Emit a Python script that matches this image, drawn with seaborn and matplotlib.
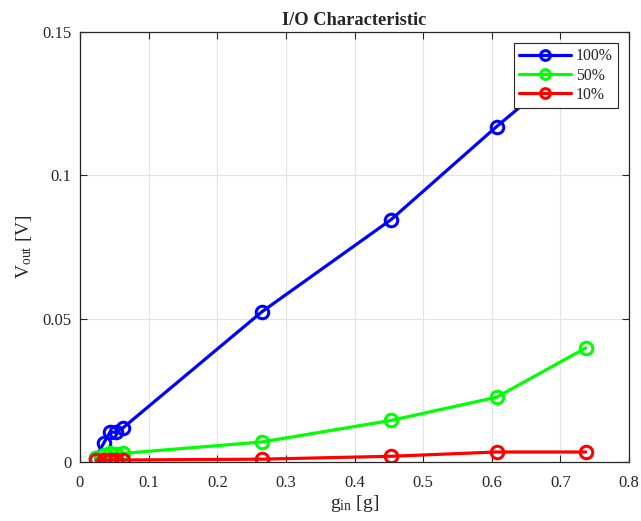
import matplotlib
matplotlib.use("Agg")
import matplotlib.pyplot as plt
import numpy as np
import pandas as pd
import seaborn as sns


g_in = [0.023, 0.035, 0.044, 0.053, 0.062, 0.265, 0.453, 0.607, 0.737]
v_100 = [0.0015, 0.0068, 0.0105, 0.0103, 0.0118, 0.0524, 0.0845, 0.117, 0.143]
v_50 = [0.0015, 0.0025, 0.0031, 0.0029, 0.0030, 0.0070, 0.0145, 0.0226, 0.0398]
v_10 = [0.0006, 0.0007, 0.0007, 0.0008, 0.0007, 0.0010, 0.0020, 0.0035, 0.0035]
series_names = ["100%", "50%", "10%"]
series_colors = ["#0000ff", "#00ff00", "#ff0000"]

sns.set_theme(style="whitegrid")
plt.rcParams["font.family"] = ["Liberation Serif", "DejaVu Serif"]
plt.rcParams["mathtext.fontset"] = "custom"
plt.rcParams["mathtext.rm"] = "Liberation Serif"
plt.rcParams["mathtext.it"] = "Liberation Serif:italic"

df = pd.DataFrame({
    "g": g_in * 3,
    "v": v_100 + v_50 + v_10,
    "series": np.repeat(series_names, len(g_in)),
})

fig = plt.figure(figsize=(6.41, 5.21), dpi=100)
ax = fig.add_axes([0.1248, 0.1132, 0.8565, 0.8254])
ax.set_facecolor("white")

sns.lineplot(
    data=df, x="g", y="v", hue="series", hue_order=series_names,
    palette=dict(zip(series_names, series_colors)),
    marker="o", markersize=9, markerfacecolor="none", markeredgewidth=2.2,
    linewidth=2.3, sort=False, ax=ax,
)
for line in ax.lines:
    line.set_markeredgecolor(line.get_color())

ax.set_xlim(0, 0.8)
ax.set_ylim(0, 0.15)
ax.set_xticks(np.arange(0, 0.81, 0.1))
ax.set_xticklabels(["0", "0.1", "0.2", "0.3", "0.4", "0.5", "0.6", "0.7", "0.8"])
ax.set_yticks([0, 0.05, 0.1, 0.15])
ax.set_yticklabels(["0", "0.05", "0.1", "0.15"])
ax.grid(True, color="#e3e3e3", linewidth=0.8)
for s in ax.spines.values():
    s.set_color("#262626")
    s.set_linewidth(0.9)
ax.tick_params(axis="both", which="both", direction="in", length=5, width=0.8,
               color="#262626", labelsize=12, labelcolor="#262626",
               top=True, right=True, bottom=True, left=True)
ax.tick_params(axis="x", pad=9)
ax.tick_params(axis="y", pad=6)

ax.set_title("I/O Characteristic", fontsize=13.3, fontweight="bold", pad=5)
ax.set_xlabel(r"g$_{\rm in}$ [g]", fontsize=14, color="#262626", labelpad=2)
ax.set_ylabel(r"V$_{\rm out}$ [V]", fontsize=14, color="#262626", labelpad=6)

leg = ax.legend(loc="upper right", fontsize=11.3, frameon=True, fancybox=False,
                framealpha=1, edgecolor="#262626", borderaxespad=0.7,
                handlelength=3.3, handletextpad=0.3, borderpad=0.35,
                labelspacing=0.2)
leg.get_frame().set_linewidth(0.8)
for h in leg.get_lines():
    h.set_markerfacecolor("none")
    h.set_markeredgecolor(h.get_color())
    h.set_markersize(7)

fig.savefig("out.png", dpi=100)
plt.close(fig)
